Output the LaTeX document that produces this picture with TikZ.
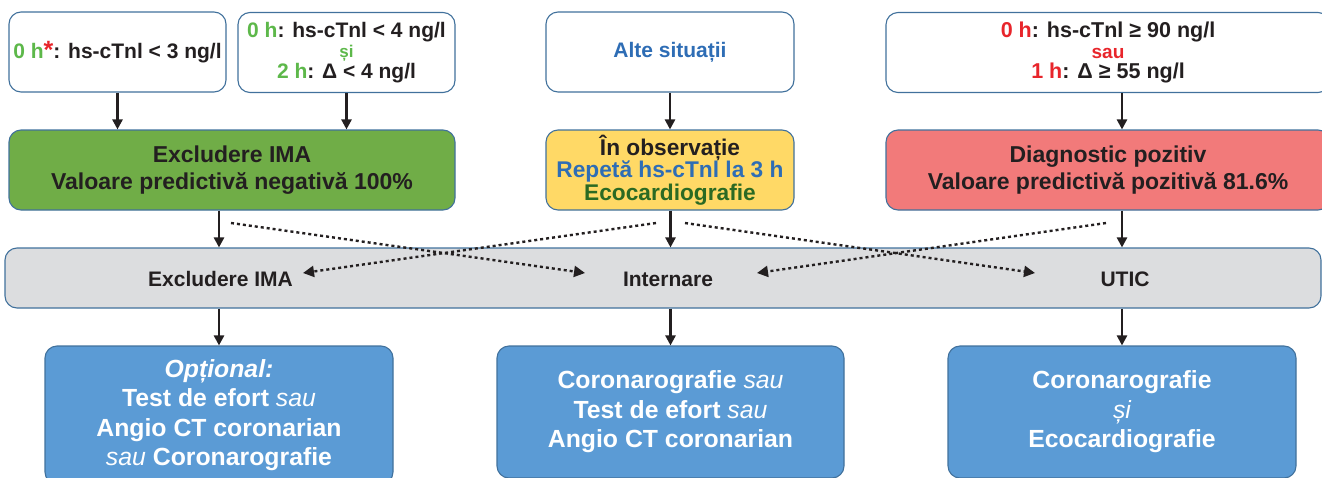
\documentclass[tikz,border=0pt]{standalone}
\usepackage{fontspec}
\setmainfont{Liberation Sans}
\usetikzlibrary{arrows.meta}
\definecolor{bcol}{HTML}{41719C}
\definecolor{gfill}{HTML}{70AD47}
\definecolor{yfill}{HTML}{FFD966}
\definecolor{rfill}{HTML}{F27A7A}
\definecolor{grfill}{HTML}{DCDDDF}
\definecolor{bfill}{HTML}{5B9BD5}
\definecolor{lgr}{HTML}{5DB84A}
\definecolor{rtx}{HTML}{E8252B}
\definecolor{btx}{HTML}{2E6DB5}
\definecolor{dgr}{HTML}{2B6A23}
\definecolor{txt}{HTML}{231F20}
\newcommand\ftop{\fontsize{21}{20.5}\selectfont\bfseries}
\newcommand\ftopd{\fontsize{21.5}{20.5}\selectfont\bfseries}
\newcommand\fmid{\fontsize{23}{27.5}\selectfont\bfseries}
\newcommand\fyel{\fontsize{22.7}{22.5}\selectfont\bfseries}
\newcommand\fbot{\fontsize{24.8}{29.5}\selectfont\bfseries}
\newcommand\fgray{\fontsize{21}{22}\selectfont\bfseries}
\begin{document}
\begin{tikzpicture}[x=1pt,y=-1pt,
  box/.style={draw=bcol, line width=1.1pt, rounded corners=12pt, inner sep=0pt, align=center, text=txt},
  topbox/.style={box, fill=white, font=\ftop, minimum height=80pt},
  midbox/.style={box, minimum height=80pt},
  botbox/.style={box, fill=bfill, text=white, font=\fbot},
  arr/.style={line width=2.4pt, draw=txt, -{Triangle[length=10pt,width=10pt]}},
  darr/.style={line width=2.4pt, draw=txt, dash pattern=on 3pt off 3pt, -{Triangle[length=11pt,width=11pt]}},
  glabel/.style={font=\fgray, text=txt, inner sep=0pt}]
\useasboundingbox (0,0) rectangle (1322,477);
\clip (0,0) rectangle (1322,477);
% top row
\node[topbox, minimum width=217pt] (A) at (117.5,52) {{\color{lgr}0 h}{\color{rtx}\fontsize{25}{20}\selectfont *}: hs-cTnl < 3 ng/l};
\node[topbox, minimum width=217pt] (B) at (346.5,52.5) {{\color{lgr}0 h}: hs-cTnl < 4 ng/l\\{\color{lgr}\fontsize{17}{20.5}\selectfont și}\\{\color{lgr}2 h}: Δ < 4 ng/l};
\node[topbox, minimum width=248pt, text=btx] (C) at (670,52) {Alte situații};
\node[topbox, font=\ftopd, minimum width=444pt] (D) at (1108,52.5) {{\color{rtx}0 h}: hs-cTnl ≥ 90 ng/l\\{\color{rtx}\fontsize{19}{20.5}\selectfont sau}\\{\color{rtx}1 h}: Δ ≥ 55 ng/l};
% middle row
\node[midbox, fill=gfill, minimum width=446pt, font=\fmid] (G) at (232,170) {Excludere IMA\\Valoare predictivă negativă 100\%};
\node[midbox, fill=yfill, minimum width=248pt, font=\fyel] (Y) at (670,170) {În observație\\{\color{btx}Repetă hs-cTnl la 3 h}\\{\color{dgr}Ecocardiografie}};
\node[midbox, fill=rfill, minimum width=444pt, font=\fmid] (R) at (1108,170) {Diagnostic pozitiv\\Valoare predictivă pozitivă 81.6\%};
% gray bar
\node[box, fill=grfill, minimum width=1316pt, minimum height=60pt] (S) at (663,278) {};
\node[glabel] (LE) at (220.5,279) {Excludere IMA};
\node[glabel] (LI) at (668,279) {Internare};
\node[glabel] (LU) at (1125,279) {UTIC};
% bottom row
\node[botbox, minimum width=348pt, minimum height=138pt] (B1) at (219,415) {{\itshape Opțional:}\\Test de efort {\mdseries\itshape sau}\\Angio CT coronarian\\{\mdseries\itshape sau} Coronarografie};
\node[botbox, minimum width=347pt, minimum height=132pt] (B2) at (670.5,412) {Coronarografie {\mdseries\itshape sau}\\Test de efort {\mdseries\itshape sau}\\Angio CT coronarian};
\node[botbox, minimum width=348pt, minimum height=132pt] (B3) at (1122,412) {Coronarografie\\{\mdseries\itshape și}\\Ecocardiografie};
% solid arrows
\draw[arr] (A.south) -- (A.south |- G.north);
\draw[arr] (B.south) -- (B.south |- G.north);
\draw[arr] (C.south) -- (C.south |- Y.north);
\draw[arr] (D.south -| B3.north) -- (B3.north |- R.north);
\draw[arr] (G.south -| B1.north) -- (B1.north |- S.north);
\draw[arr] (Y.south -| B2.north) -- (B2.north |- S.north);
\draw[arr] (R.south -| B3.north) -- (B3.north |- S.north);
\draw[arr] (S.south -| B1.north) -- (B1.north);
\draw[arr] (S.south -| B2.north) -- (B2.north);
\draw[arr] (S.south -| B3.north) -- (B3.north);
% dotted arrows
\coordinate (g1) at (231,223);
\coordinate (y1) at (656,223);
\coordinate (y2) at (685,223);
\coordinate (r1) at (1106,223);
\coordinate (tI1) at (585,273);
\coordinate (tE) at (303,273);
\coordinate (tU) at (1035,273);
\coordinate (tI2) at (757,273);
\draw[darr] (g1) -- (tI1);
\draw[darr] (y1) -- (tE);
\draw[darr] (y2) -- (tU);
\draw[darr] (r1) -- (tI2);
\end{tikzpicture}
\end{document}
